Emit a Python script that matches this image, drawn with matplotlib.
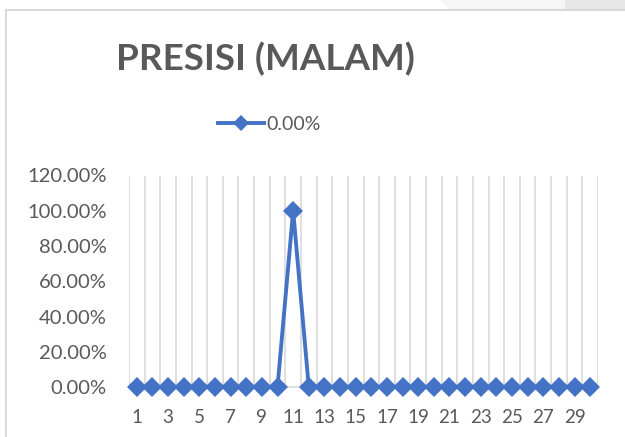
import matplotlib.pyplot as plt
from matplotlib.lines import Line2D
from matplotlib.patches import Polygon
from matplotlib.ticker import PercentFormatter

# data
days = list(range(1, 31))
presisi = [0, 0, 0, 0, 0, 0, 0, 0, 0, 0,
           1.0, 0, 0, 0, 0, 0, 0, 0, 0, 0,
           0, 0, 0, 0, 0, 0, 0, 0, 0, 0]
xtick_days = list(range(1, 30, 2))
yticks = [0, 0.2, 0.4, 0.6, 0.8, 1.0, 1.2]
series_name = "0.00%"
title = "PRESISI (MALAM)"

blue = "#4472C4"
grey_txt = "#595959"
grid = "#d9d9d9"

plt.rcParams['font.family'] = ['Lato', 'DejaVu Sans']

fig = plt.figure(figsize=(6.25, 4.37), dpi=100)
W, H = 625, 437

# screenshot bits at the top right + chart border
fig.patches.append(Polygon([(440 / W, 1), (565 / W, 1), (565 / W, 1 - 9 / H), (450 / W, 1 - 9 / H)],
                           closed=True, transform=fig.transFigure, facecolor="#f6f6f6", edgecolor="none"))
fig.patches.append(Polygon([(565 / W, 1), (1, 1), (1, 1 - 9 / H), (565 / W, 1 - 9 / H)],
                           closed=True, transform=fig.transFigure, facecolor="#e7e7e7", edgecolor="none"))
fig.lines.append(Line2D([6 / W, 1], [1 - 9.5 / H, 1 - 9.5 / H], transform=fig.transFigure, color=grid, lw=1.5))
fig.lines.append(Line2D([6 / W, 6 / W], [0, 1 - 9.5 / H], transform=fig.transFigure, color=grid, lw=1.5))

ax = fig.add_axes([129 / W, 1 - 387 / H, (598 - 129) / W, (387 - 175.5) / H])

ax.plot(days, presisi, color=blue, lw=2.8, marker='D', markersize=10,
        markeredgewidth=0, label=series_name, clip_on=False, zorder=3)

ax.set_xlim(0.5, 30.5)
ax.set_ylim(0, 1.2)
ax.set_yticks(yticks)
ax.yaxis.set_major_formatter(PercentFormatter(1.0, decimals=2))
ax.set_xticks(xtick_days)
ax.set_xticks([d + 0.5 for d in range(0, 31)], minor=True)
ax.grid(True, which='minor', axis='x', color=grid, lw=1.2)
ax.tick_params(axis='x', which='both', length=0, pad=16, labelsize=13.5, labelcolor=grey_txt)
ax.tick_params(axis='y', length=0, pad=16, labelsize=14.5, labelcolor=grey_txt)

for s in ['top', 'right', 'left']:
    ax.spines[s].set_visible(False)
ax.spines['bottom'].set_color(grid)
ax.spines['bottom'].set_linewidth(1.2)

fig.text(265 / W, 1 - 70 / H, title, ha='center', va='baseline',
         fontsize=26.5, fontweight='bold', color=grey_txt)

leg = fig.legend(loc='center', bbox_to_anchor=(269 / W, 1 - 124 / H), frameon=False,
                 fontsize=14, handlelength=2.4, handletextpad=0.1, borderpad=0,
                 markerscale=0.8)
for t in leg.get_texts():
    t.set_color(grey_txt)

fig.savefig("out.png", dpi=100)
